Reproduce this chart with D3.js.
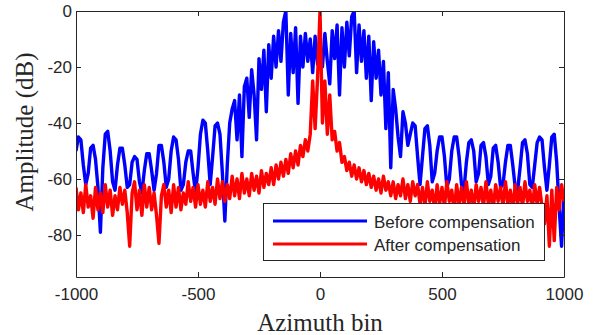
<!DOCTYPE html>
<html>
<head>
<meta charset="utf-8">
<script src="https://cdn.jsdelivr.net/npm/d3@7"></script>
<style>
  html, body { margin: 0; padding: 0; background: #fff; }
  .tick text { font-family: "Liberation Sans", Arial, sans-serif; font-size: 17px; fill: #262626; }
  .tick line, .domain { stroke: #262626; }
</style>
</head>
<body>
<div id="chart"></div>
<script>
// azimuth bins, one sample every 10 bins
const bins = d3.range(-1000, 1001, 10);

// amplitude before compensation (dB)
const beforeComp = [
  -50, -45, -46, -55, -62, -58, -49, -48, -53, -63,
  -79, -56, -44, -43, -50, -61, -64, -55, -49, -49,
  -55, -63, -62, -54, -52, -53, -61, -65, -57, -51,
  -51, -57, -64, -58, -48, -48, -54, -63, -60, -50,
  -45, -46, -53, -64, -62, -54, -50, -50, -58, -65,
  -56, -44, -39, -40, -50, -62, -52, -41, -40, -44,
  -58, -75, -55, -40, -35, -32, -46, -30, -52, -27,
  -24, -38, -21, -30, -46, -17, -28, -14, -36, -12,
  -24, -9, -20, -7, -18, -4, 0, -30, -8, -22,
  -6, -33, -9, -20, -8, -18, -10, -22, -9, -19,
  -12, -20, -8, -18, -26, -7, -17, -5, -30, -6,
  -20, -4, -16, -2, 0, -22, -5, -18, -7, -24,
  -9, -32, -11, -24, -14, -30, -18, -42, -22, -56,
  -28, -35, -45, -52, -36, -40, -48, -44, -40, -41,
  -52, -62, -52, -42, -41, -48, -61, -58, -50, -45,
  -45, -52, -63, -60, -50, -45, -45, -52, -62, -64,
  -54, -47, -46, -50, -61, -58, -48, -47, -52, -62,
  -59, -49, -48, -54, -63, -62, -54, -48, -48, -55,
  -63, -64, -56, -47, -46, -51, -62, -63, -55, -47,
  -45, -46, -56, -64, -55, -45, -44, -54, -70, -84,
  -64
];

// amplitude after compensation (dB)
const afterComp = [
  -63, -71, -65, -72, -62, -70, -66, -74, -63, -71,
  -65, -72, -62, -70, -64, -73, -66, -71, -63, -69,
  -64, -72, -84, -65, -61, -71, -64, -73, -62, -70,
  -63, -71, -65, -73, -83, -66, -62, -70, -64, -72,
  -62, -70, -63, -71, -65, -69, -61, -68, -63, -70,
  -62, -69, -64, -70, -61, -68, -63, -69, -60, -67,
  -61, -68, -62, -67, -59, -66, -60, -67, -58, -65,
  -60, -66, -58, -64, -59, -65, -57, -63, -58, -62,
  -56, -62, -55, -60, -54, -59, -53, -58, -51, -56,
  -50, -55, -48, -52, -46, -50, -44, -25, -42, -24,
  0, -40, -25, -44, -30, -46, -43, -50, -47, -54,
  -52, -57, -54, -59, -55, -60, -56, -61, -57, -62,
  -58, -63, -59, -64, -60, -65, -59, -64, -61, -66,
  -61, -67, -62, -66, -60, -67, -62, -68, -61, -66,
  -62, -69, -63, -70, -61, -68, -64, -71, -62, -69,
  -63, -70, -61, -68, -64, -72, -62, -69, -63, -70,
  -61, -69, -64, -71, -62, -68, -63, -70, -61, -69,
  -64, -71, -62, -68, -63, -70, -61, -69, -64, -71,
  -62, -69, -63, -70, -61, -68, -64, -71, -62, -69,
  -63, -70, -76, -66, -84, -64, -82, -63, -71, -62,
  -68
];

const xTicks = [-1000, -500, 0, 500, 1000];
const yTicks = [-80, -60, -40, -20, 0];
const seriesNames = ["Before compensation", "After compensation"];
const seriesColors = ["#0000ff", "#ff0000"];

const width = 598, height = 335;
const plotL = 76, plotR = 564, plotT = 11, plotB = 277;

const svg = d3.select("#chart").append("svg")
  .attr("width", width)
  .attr("height", height);

const x = d3.scaleLinear().domain([-1000, 1000]).range([plotL, plotR]);
const y = d3.scaleLinear().domain([-95, 0]).range([plotB, plotT]);

svg.append("clipPath").attr("id", "plot")
  .append("rect")
  .attr("x", plotL).attr("y", plotT)
  .attr("width", plotR - plotL).attr("height", plotB - plotT);

const line = d3.line()
  .x((d, i) => x(bins[i]))
  .y(d => y(d));

[beforeComp, afterComp].forEach((vals, k) => {
  svg.append("path")
    .datum(vals)
    .attr("clip-path", "url(#plot)")
    .attr("fill", "none")
    .attr("stroke", seriesColors[k])
    .attr("stroke-width", 3.4)
    .attr("stroke-linejoin", "round")
    .attr("d", line);
});

// box with inward ticks on all four sides
const fmt = d => String(d);
svg.append("g")
  .attr("transform", `translate(0,${plotB})`)
  .call(d3.axisBottom(x).tickValues(xTicks).tickFormat(fmt).tickSize(-5).tickSizeOuter(0).tickPadding(11));
svg.append("g")
  .attr("transform", `translate(0,${plotT})`)
  .call(d3.axisTop(x).tickValues(xTicks).tickSize(-5).tickSizeOuter(0).tickFormat(""));
svg.append("g")
  .attr("transform", `translate(${plotL},0)`)
  .call(d3.axisLeft(y).tickValues(yTicks).tickFormat(fmt).tickSize(-5).tickSizeOuter(0).tickPadding(4));
svg.append("g")
  .attr("transform", `translate(${plotR},0)`)
  .call(d3.axisRight(y).tickValues(yTicks).tickSize(-5).tickSizeOuter(0).tickFormat(""));

// axis titles
svg.append("text")
  .attr("x", (plotL + plotR) / 2)
  .attr("y", 331)
  .attr("text-anchor", "middle")
  .style("font-family", "'Liberation Serif', 'Times New Roman', serif")
  .style("font-size", "25px")
  .style("fill", "#262626")
  .text("Azimuth bin");

svg.append("text")
  .attr("transform", "translate(33,132) rotate(-90)")
  .attr("text-anchor", "middle")
  .style("font-family", "'Liberation Serif', 'Times New Roman', serif")
  .style("font-size", "25px")
  .style("fill", "#262626")
  .text("Amplitude (dB)");

// legend
const lg = svg.append("g");
lg.append("rect")
  .attr("x", 263.5).attr("y", 203.5)
  .attr("width", 281).attr("height", 57)
  .attr("fill", "#fff")
  .attr("stroke", "#262626");
seriesNames.forEach((name, i) => {
  const ly = 221 + i * 23;
  lg.append("line")
    .attr("x1", 273).attr("x2", 367)
    .attr("y1", ly).attr("y2", ly)
    .attr("stroke", seriesColors[i])
    .attr("stroke-width", 3);
  lg.append("text")
    .attr("x", 374).attr("y", ly + 6.5)
    .style("font-family", "'Liberation Sans', Arial, sans-serif")
    .style("font-size", "17px")
    .style("fill", "#262626")
    .text(name);
});
</script>
</body>
</html>
